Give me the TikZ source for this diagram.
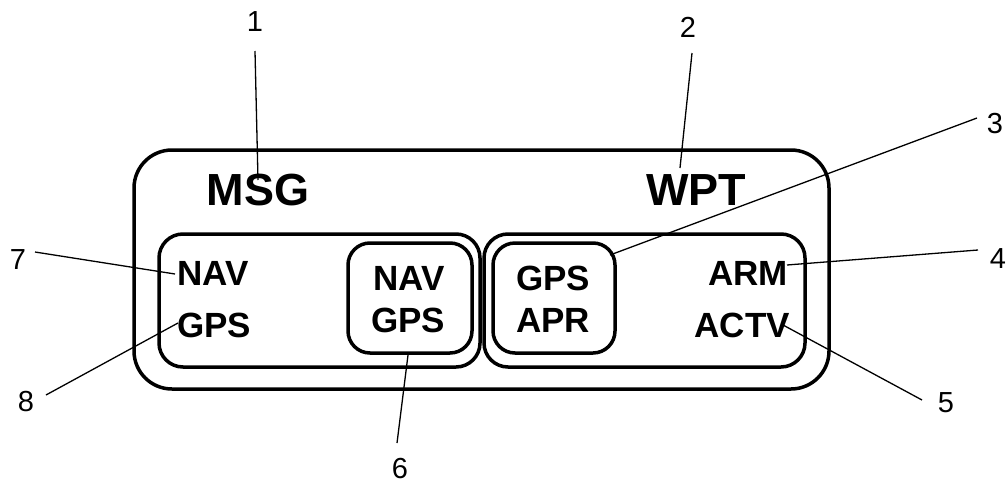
\documentclass[tikz,border=0pt]{standalone}
\usepackage{fontspec}
\setmainfont{Liberation Sans}
\begin{document}
\begin{tikzpicture}[x=1pt,y=-1pt,
  frame/.style={draw, line width=3.5pt, inner sep=0pt, outer sep=0pt, rectangle},
  big/.style={font=\fontsize{45}{45}\selectfont\bfseries, inner sep=0pt, anchor=base},
  mid/.style={font=\fontsize{35}{35}\selectfont\bfseries, inner sep=0pt},
  num/.style={font=\fontsize{29}{29}\selectfont, inner sep=0pt},
  lead/.style={line width=1.3pt}]
\useasboundingbox (0,0) rectangle (1008,485);

% boxes
\node[frame, rounded corners=38pt, minimum width=695pt, minimum height=239pt] (outer) at (481.5,269.5) {};
\node[frame, rounded corners=24pt, minimum width=321pt, minimum height=133pt] (leftbox) at (319.5,300.5) {};
\node[frame, rounded corners=24pt, minimum width=321pt, minimum height=133pt] (rightbox) at (644.5,300.5) {};
\node[frame, rounded corners=22pt, minimum width=124pt, minimum height=110pt] (navbox) at (410,298) {};
\node[frame, rounded corners=22pt, minimum width=122pt, minimum height=110pt] (aprbox) at (554,298) {};

% texts
\node[big] (msg) at (258,205) {MSG};
\node[big] (wpt) at (696,205) {WPT};
\node[mid, anchor=base west] (nav) at (177,285) {NAV};
\node[mid, anchor=base west] (gps) at (177,337) {GPS};
\node[mid, anchor=base] (nav2) at (409,290) {NAV};
\node[mid, anchor=base] (gps2) at (408,332) {GPS};
\node[mid, anchor=base] (gps3) at (553,290) {GPS};
\node[mid, anchor=base] (apr) at (553,332) {APR};
\node[mid, anchor=base east] (arm) at (788,285) {ARM};
\node[mid, anchor=base east] (actv) at (790,337) {ACTV};

% numbers
\node[num] (n1) at (255,22) {1};
\node[num] (n2) at (688,27) {2};
\node[num] (n3) at (995,124) {3};
\node[num] (n4) at (998,259) {4};
\node[num] (n5) at (946,403) {5};
\node[num] (n6) at (400,469) {6};
\node[num] (n7) at (18,260) {7};
\node[num] (n8) at (26,402) {8};

% leader end points
\coordinate (s1) at (255,51);   \coordinate (e1) at (258,180);
\coordinate (s2) at (692,53);   \coordinate (e2) at (680,168);
\coordinate (s3) at (977,118);  \coordinate (e3) at (610,255);
\coordinate (s4) at (978,250);  \coordinate (e4) at (787,265);
\coordinate (s5) at (922,400);  \coordinate (e5) at (783,325);
\coordinate (s6) at (397,443);  \coordinate (e6) at (408,355);
\coordinate (s7) at (35,252);   \coordinate (e7) at (175,274);
\coordinate (s8) at (46,395);   \coordinate (e8) at (178,323);

\foreach \i in {1,...,8} { \draw[lead] (s\i) -- (e\i); }
\end{tikzpicture}
\end{document}
